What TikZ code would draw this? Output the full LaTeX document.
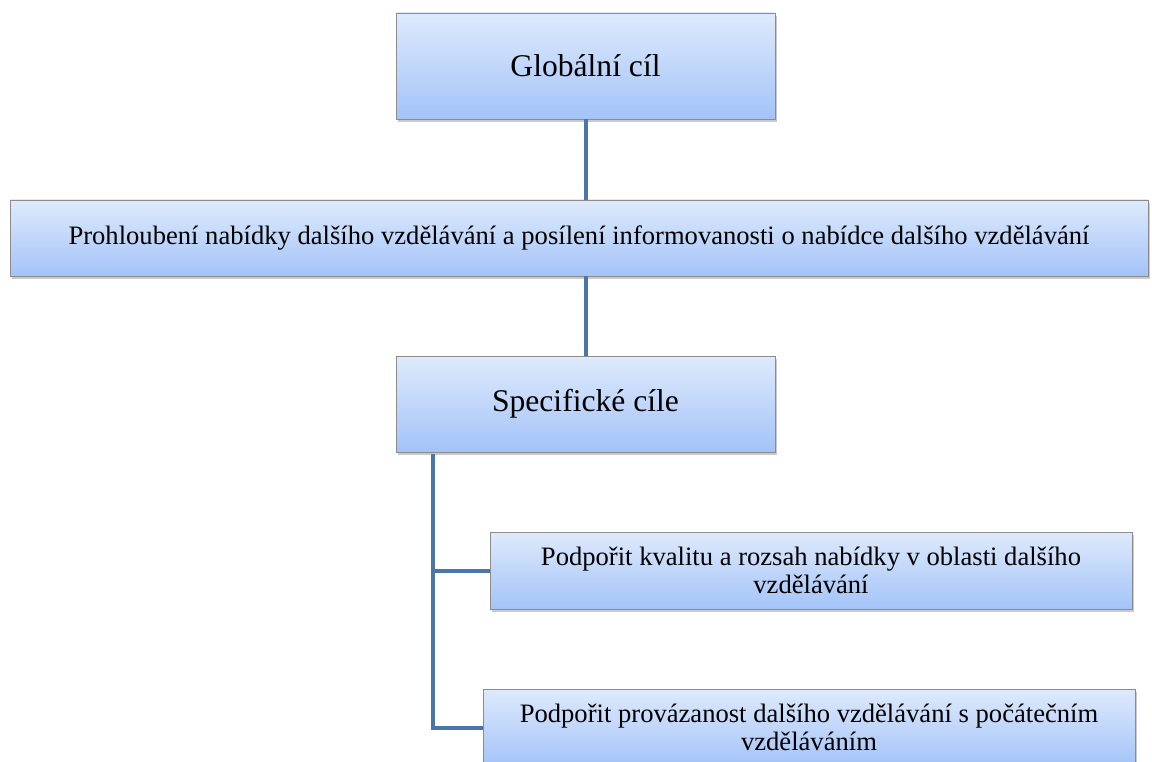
\documentclass[tikz,border=0pt]{standalone}
\usepackage{fontspec}
\setmainfont{Liberation Serif}
\newfontfamily\tnr{Liberation Serif}
\usetikzlibrary{shadows,calc}
\definecolor{boxtop}{RGB}{222,234,252}
\definecolor{boxbot}{RGB}{163,195,248}
\definecolor{boxline}{RGB}{140,140,140}
\definecolor{conn}{RGB}{74,118,168}
\tikzset{
  box/.style={draw=boxline, line width=0.8pt, top color=boxtop, bottom color=boxbot,
    inner sep=0pt, align=center, text=black,
    drop shadow={shadow xshift=2pt, shadow yshift=-3pt, opacity=0.35, fill=black!60}},
  link/.style={draw=conn, line width=4pt}
}
\begin{document}
\begin{tikzpicture}[x=1pt,y=-1pt]
\useasboundingbox (0,0) rectangle (1152,762);
\clip (0,0) rectangle (1152,762);
\node[box, minimum width=379pt, minimum height=106pt, font=\tnr\fontsize{31.6}{35}\selectfont] (g) at (585.5,66) {Globální cíl};
\node[box, minimum width=1138pt, minimum height=76pt, font=\tnr\fontsize{26.6}{30}\selectfont] (p) at (579,238) {Prohloubení nabídky dalšího vzdělávání a posílení informovanosti o nabídce dalšího vzdělávání};
\node[box, minimum width=379pt, minimum height=96pt, font=\tnr\fontsize{31.6}{35}\selectfont] (s) at (585.5,404) {Specifické cíle};
\node[box, minimum width=642pt, minimum height=77pt, font=\tnr\fontsize{26.6}{28}\selectfont] (a) at (811,570.5) {Podpořit kvalitu a rozsah nabídky v oblasti dalšího\\vzdělávání};
\node[box, minimum width=652pt, minimum height=77pt, font=\tnr\fontsize{26.6}{28}\selectfont] (b) at (809,727.5) {Podpořit provázanost dalšího vzdělávání s počátečním\\vzděláváním};
\coordinate (t) at (433,452);
\draw[link] (g.south) -- (g.south |- p.north);
\draw[link] (s.north |- p.south) -- (s.north);
\draw[link] ($(s.south -| t)+(0,2)$) |- (a.west);
\draw[link] ($(s.south -| t)+(0,2)$) |- (b.west);
\end{tikzpicture}
\end{document}
